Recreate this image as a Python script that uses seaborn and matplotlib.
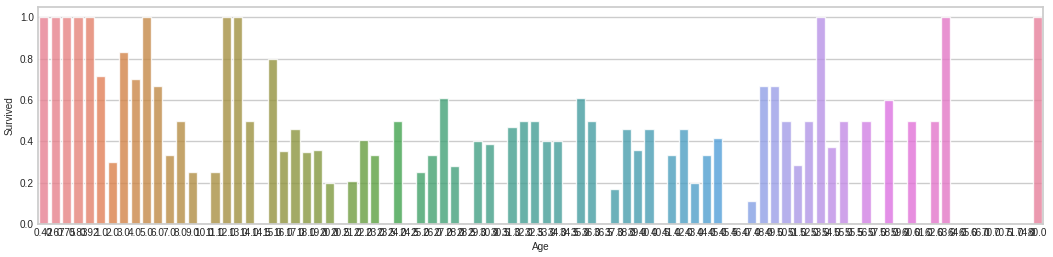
import matplotlib
matplotlib.use("Agg")
import matplotlib.pyplot as plt
import seaborn as sns
import pandas as pd

ages = [0.42, 0.67, 0.75, 0.83, 0.92, 1.0, 2.0, 3.0, 4.0, 5.0, 6.0, 7.0, 8.0, 9.0, 10.0,
        11.0, 12.0, 13.0, 14.0, 14.5, 15.0, 16.0, 17.0, 18.0, 19.0, 20.0, 20.5, 21.0, 22.0,
        23.0, 23.5, 24.0, 24.5, 25.0, 26.0, 27.0, 28.0, 28.5, 29.0, 30.0, 30.5, 31.0, 32.0,
        32.5, 33.0, 34.0, 34.5, 35.0, 36.0, 36.5, 37.0, 38.0, 39.0, 40.0, 40.5, 41.0, 42.0,
        43.0, 44.0, 45.0, 45.5, 46.0, 47.0, 48.0, 49.0, 50.0, 51.0, 52.0, 53.0, 54.0, 55.0,
        55.5, 56.0, 57.0, 58.0, 59.0, 60.0, 61.0, 62.0, 63.0, 64.0, 65.0, 66.0, 70.0, 70.5,
        71.0, 74.0, 80.0]

survived = [1.0, 1.0, 1.0, 1.0, 1.0, 0.714, 0.3, 0.833, 0.7, 1.0, 0.667, 0.333, 0.5, 0.25, 0.0,
            0.25, 1.0, 1.0, 0.5, 0.0, 0.8, 0.353, 0.462, 0.346, 0.36, 0.2, 0.0, 0.208, 0.407,
            0.333, 0.0, 0.5, 0.0, 0.25, 0.333, 0.611, 0.28, 0.0, 0.4, 0.385, 0.0, 0.471, 0.5,
            0.5, 0.4, 0.4, 0.0, 0.611, 0.5, 0.0, 0.167, 0.462, 0.357, 0.462, 0.0, 0.333, 0.462,
            0.2, 0.333, 0.417, 0.0, 0.0, 0.111, 0.667, 0.667, 0.5, 0.286, 0.5, 1.0, 0.375, 0.5,
            0.0, 0.5, 0.0, 0.6, 0.0, 0.5, 0.0, 0.5, 1.0, 0.0, 0.0, 0.0, 0.0, 0.0,
            0.0, 0.0, 1.0]

age_labels = [str(a) for a in ages]
df = pd.DataFrame({"Age": age_labels, "Survived": survived})

sns.set_theme(style="whitegrid")
plt.rcParams["font.family"] = ["Liberation Sans", "DejaVu Sans"]
plt.rcParams["axes.edgecolor"] = ".8"
plt.rcParams["grid.color"] = ".8"

fig = plt.figure(figsize=(10.53, 2.57), dpi=100)
ax = fig.add_axes([38 / 1053, 1 - 224 / 257, 1005 / 1053, 217 / 257])

palette = sns.color_palette("husl", len(ages))
sns.barplot(data=df, x="Age", y="Survived", hue="Age", order=age_labels,
            hue_order=age_labels, palette=palette, legend=False, ax=ax,
            saturation=0.75, width=0.8, alpha=0.8)

ax.set_ylim(0, 1.05)
ax.set_xlim(-0.5, len(ages) - 0.5)
ax.set_yticks([0.0, 0.2, 0.4, 0.6, 0.8, 1.0])
ax.tick_params(axis="both", labelsize=7.2, colors=".15", length=0, pad=3)
ax.set_xlabel("Age", fontsize=7.2, color=".15", labelpad=3)
ax.set_ylabel("Survived", fontsize=7.2, color=".15", labelpad=4)
ax.grid(axis="x", visible=False)
for s in ax.spines.values():
    s.set_color(".8")

fig.savefig("out.png", dpi=100)
